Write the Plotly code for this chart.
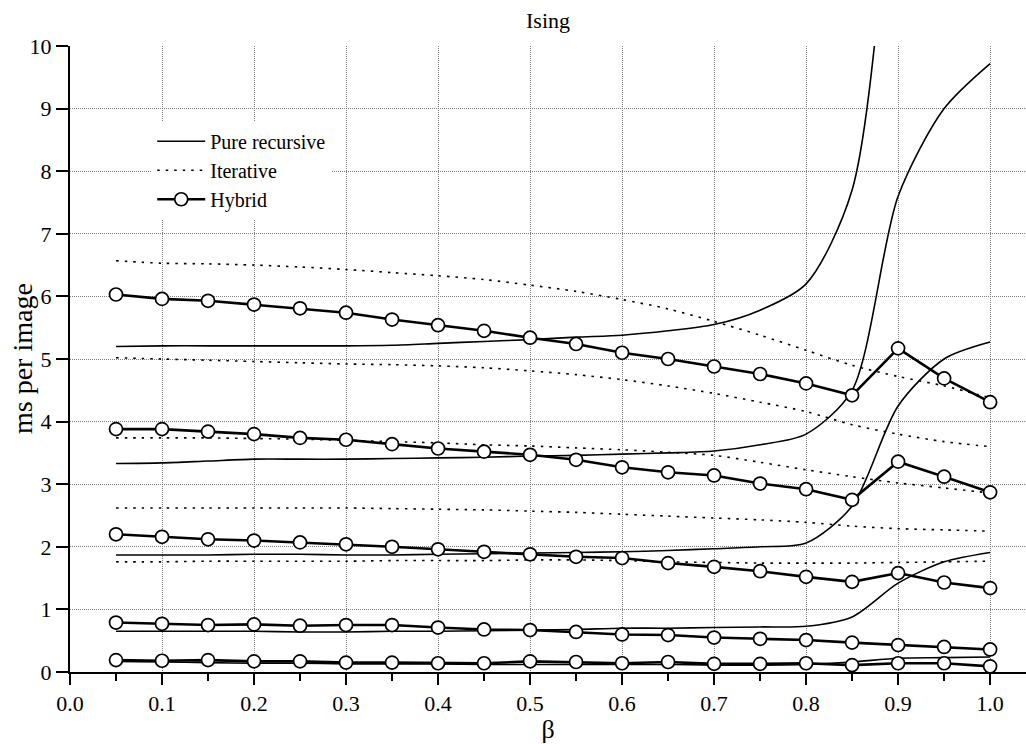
import plotly.graph_objects as go

# Inverse temperature values where each timing was taken
beta = [0.05, 0.10, 0.15, 0.20, 0.25, 0.30, 0.35, 0.40, 0.45, 0.50,
        0.55, 0.60, 0.65, 0.70, 0.75, 0.80, 0.85, 0.90, 0.95, 1.00]

# Pure recursive timings (ms per image), one list per image size
recursive_1 = [5.20, 5.21, 5.21, 5.21, 5.21, 5.21, 5.22, 5.25, 5.28, 5.31,
               5.35, 5.38, 5.45, 5.55, 5.78, 6.20, 7.70, 13.5, 18.0, 21.0]
recursive_2 = [3.33, 3.34, 3.37, 3.40, 3.40, 3.40, 3.41, 3.42, 3.43, 3.45,
               3.46, 3.48, 3.50, 3.53, 3.63, 3.80, 4.50, 7.60, 9.00, 9.72]
recursive_3 = [1.87, 1.87, 1.87, 1.88, 1.88, 1.87, 1.87, 1.88, 1.89, 1.90,
               1.91, 1.92, 1.94, 1.97, 2.00, 2.06, 2.65, 4.25, 5.00, 5.27]
recursive_4 = [0.65, 0.65, 0.65, 0.65, 0.64, 0.64, 0.65, 0.65, 0.66, 0.67,
               0.68, 0.70, 0.70, 0.71, 0.72, 0.73, 0.88, 1.42, 1.76, 1.91]
recursive_5 = [0.17, 0.16, 0.15, 0.14, 0.14, 0.13, 0.13, 0.13, 0.12, 0.12,
               0.12, 0.12, 0.12, 0.11, 0.11, 0.12, 0.16, 0.22, 0.23, 0.24]

# Iterative timings (ms per image)
iterative_1 = [6.57, 6.53, 6.52, 6.50, 6.47, 6.43, 6.38, 6.33, 6.27, 6.18,
               6.08, 5.95, 5.80, 5.60, 5.38, 5.14, 4.90, 4.72, 4.57, 4.38]
iterative_2 = [5.02, 5.00, 4.98, 4.96, 4.94, 4.92, 4.91, 4.89, 4.86, 4.81,
               4.75, 4.67, 4.57, 4.45, 4.31, 4.16, 3.95, 3.80, 3.68, 3.60]
iterative_3 = [3.74, 3.74, 3.74, 3.73, 3.72, 3.70, 3.68, 3.66, 3.63, 3.61,
               3.58, 3.55, 3.51, 3.46, 3.35, 3.23, 3.12, 3.02, 2.94, 2.86]
iterative_4 = [2.62, 2.62, 2.62, 2.62, 2.62, 2.62, 2.61, 2.60, 2.59, 2.57,
               2.55, 2.52, 2.49, 2.46, 2.43, 2.39, 2.33, 2.29, 2.27, 2.25]
iterative_5 = [1.76, 1.76, 1.77, 1.77, 1.77, 1.77, 1.78, 1.78, 1.78, 1.79,
               1.79, 1.78, 1.76, 1.75, 1.74, 1.74, 1.74, 1.75, 1.76, 1.77]

# Hybrid timings (ms per image)
hybrid_1 = [6.03, 5.96, 5.93, 5.87, 5.81, 5.74, 5.63, 5.54, 5.45, 5.34,
            5.24, 5.10, 5.00, 4.88, 4.76, 4.61, 4.42, 5.17, 4.69, 4.31]
hybrid_2 = [3.88, 3.88, 3.84, 3.80, 3.74, 3.71, 3.64, 3.57, 3.52, 3.47,
            3.39, 3.27, 3.19, 3.14, 3.01, 2.92, 2.75, 3.36, 3.12, 2.87]
hybrid_3 = [2.20, 2.16, 2.12, 2.10, 2.07, 2.04, 2.00, 1.96, 1.92, 1.88,
            1.84, 1.82, 1.74, 1.68, 1.61, 1.52, 1.44, 1.58, 1.43, 1.34]
hybrid_4 = [0.79, 0.77, 0.75, 0.76, 0.74, 0.75, 0.75, 0.71, 0.68, 0.67,
            0.64, 0.60, 0.59, 0.55, 0.53, 0.51, 0.47, 0.43, 0.40, 0.36]
hybrid_5 = [0.19, 0.18, 0.19, 0.17, 0.17, 0.15, 0.15, 0.14, 0.14, 0.17,
            0.16, 0.14, 0.16, 0.13, 0.13, 0.14, 0.11, 0.14, 0.14, 0.09]

recursive = [recursive_1, recursive_2, recursive_3, recursive_4, recursive_5]
iterative = [iterative_1, iterative_2, iterative_3, iterative_4, iterative_5]
hybrid = [hybrid_1, hybrid_2, hybrid_3, hybrid_4, hybrid_5]

FONT = "Liberation Serif"

fig = go.Figure()

for i, ys in enumerate(recursive):
    fig.add_trace(go.Scatter(
        x=beta, y=ys, mode="lines", name="Pure recursive",
        legendgroup="rec", showlegend=(i == 0),
        line=dict(color="black", width=1.6, shape="spline", smoothing=0.8),
    ))

for i, ys in enumerate(iterative):
    fig.add_trace(go.Scatter(
        x=beta, y=ys, mode="lines", name="Iterative",
        legendgroup="it", showlegend=(i == 0),
        line=dict(color="black", width=1.6, dash="2.5px,6px",
                  shape="spline", smoothing=0.8),
    ))

for i, ys in enumerate(hybrid):
    fig.add_trace(go.Scatter(
        x=beta, y=ys, mode="lines+markers", name="Hybrid",
        legendgroup="hy", showlegend=(i == 0),
        line=dict(color="black", width=2.6),
        marker=dict(symbol="circle", size=13, color="white",
                    line=dict(color="black", width=1.7)),
    ))

fig.update_layout(
    width=1026, height=744,
    margin=dict(l=70, r=0, t=46, b=72),
    paper_bgcolor="white", plot_bgcolor="white",
    font=dict(family=FONT, size=22, color="black"),
    title=dict(text="Ising", x=(70 + 1026) / 2 / 1026, xanchor="center",
               y=1 - 20 / 744, yanchor="middle",
               font=dict(family=FONT, size=22)),
    showlegend=True,
    legend=dict(
        x=0.086, y=0.879, xanchor="left", yanchor="top",
        bgcolor="white", borderwidth=0,
        font=dict(family=FONT, size=20),
        tracegroupgap=0, itemwidth=48,
    ),
    annotations=[
        dict(text="ms per image", textangle=-90,
             xref="paper", yref="paper",
             x=(22 - 70) / 956, y=0.5, xanchor="center", yanchor="middle",
             showarrow=False, font=dict(family=FONT, size=28)),
    ],
)

fig.update_xaxes(
    range=[0, 1.039], tick0=0, dtick=0.1, tickformat=".1f",
    showline=True, linecolor="black", linewidth=2,
    ticks="outside", ticklen=11, tickwidth=2, tickcolor="black",
    minor=dict(dtick=0.05, ticks="outside", ticklen=7, tickwidth=2,
               tickcolor="black", showgrid=False),
    showgrid=True, gridcolor="#808080", gridwidth=1, griddash="1px,1px",
    zeroline=False,
    title=dict(text="β", font=dict(family=FONT, size=26), standoff=0),
    tickfont=dict(family=FONT, size=22),
)

fig.update_yaxes(
    range=[0, 10], tick0=0, dtick=1,
    showline=True, linecolor="black", linewidth=2,
    ticks="outside", ticklen=12, tickwidth=2, tickcolor="black",
    showgrid=True, gridcolor="#808080", gridwidth=1, griddash="1px,1px",
    zeroline=False,
    tickfont=dict(family=FONT, size=22),
)

fig.write_html("out.html")
